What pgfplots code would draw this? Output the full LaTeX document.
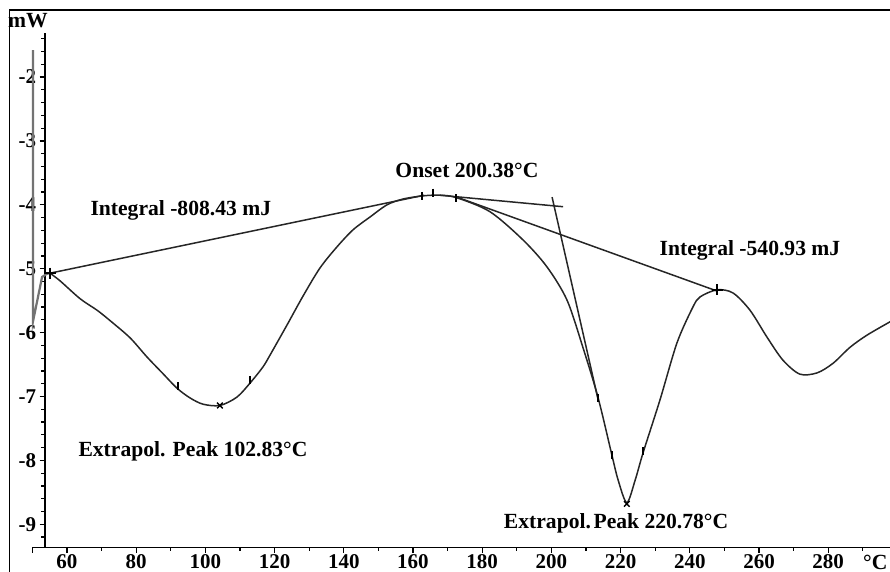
\documentclass[border=0pt]{standalone}
\usepackage{fontspec}
\setmainfont{Liberation Serif}
\usepackage{pgfplots}
\pgfplotsset{compat=1.18}

\begin{document}
\begin{tikzpicture}
\begin{axis}[
    x=1.73pt, y=31.95pt,
    xmin=53.6, xmax=297.9,
    ymin=-9.36, ymax=-1.31,
    axis x line*=bottom,
    axis y line*=left,
    axis line style={line width=0.75pt, black},
    clip=false,
    tick align=outside,
    xtick={60,80,...,280},
    minor xtick={70,90,...,290},
    ytick={-9,-8,...,-2},
    minor ytick={-9.2,-8.8,-8.6,-8.4,-8.2,-7.8,-7.6,-7.4,-7.2,-6.8,-6.6,-6.4,-6.2,-5.8,-5.6,-5.4,-5.2,-4.8,-4.6,-4.4,-4.2,-3.8,-3.6,-3.4,-3.2,-2.8,-2.6,-2.4,-2.2,-1.8,-1.6,-1.4},
    major tick length=2.6pt,
    minor tick length=1.8pt,
    tick style={line width=0.6pt, black},
    /pgf/number format/assume math mode=true,
    ticklabel style={font=\fontsize{10.5}{11}\selectfont\bfseries},
    yticklabel style={fill=white, inner sep=1pt, xshift=-0.5pt},
    xticklabel style={yshift=2.5pt},
]

% start transient and main DSC curve
\addplot[black!55, line width=1.1pt] coordinates {
    (50.17,-1.58) (50.2,-5.82) (52.8,-5.13) (54.2,-5.08) (55.1,-5.07)
};
\addplot[black!85, line width=0.75pt, smooth] coordinates {
    (55.1,-5.07) (58.0,-5.19) (63.8,-5.47) (68.7,-5.65) (72.4,-5.81)
    (78.2,-6.08) (83.1,-6.38) (87.7,-6.64) (91.8,-6.87) (95.5,-7.02)
    (99.3,-7.12) (104.2,-7.14) (109.1,-7.01) (112.9,-6.79) (116.6,-6.54)
    (118.7,-6.35) (123.6,-5.88) (128.2,-5.43) (133.1,-4.99) (138.0,-4.66)
    (142.7,-4.39) (147.6,-4.19) (152.5,-4.00) (157.1,-3.91) (162.9,-3.86)
    (167.8,-3.85) (172.7,-3.89) (182.3,-4.11) (191.8,-4.55) (198.7,-4.97)
    (204.5,-5.49) (209.1,-6.23) (213.5,-7.02) (217.5,-7.92) (219.3,-8.31)
    (221.8,-8.66) (224.2,-8.31) (226.5,-7.88) (231.4,-7.05) (236.3,-6.16)
    (240.9,-5.60) (243.0,-5.44) (247.9,-5.33) (252.5,-5.38) (257.4,-5.65)
    (262.3,-6.07) (266.9,-6.43) (271.8,-6.65) (276.8,-6.63) (281.4,-6.48)
    (286.3,-6.23) (291.2,-6.04) (297.9,-5.83)
};

% integral baselines
\addplot[black!85, line width=0.75pt] coordinates {(55.1,-5.07) (163.2,-3.85)};
\addplot[black!85, line width=0.75pt] coordinates {(172.7,-3.88) (247.9,-5.35)};
% onset tangents
\addplot[black!85, line width=0.75pt] coordinates {(167.8,-3.85) (203.4,-4.03)};
\addplot[black!85, line width=0.75pt] coordinates {(200.2,-3.88) (213.5,-7.05)};

% evaluation markers
\addplot[only marks, mark=|, mark size=2pt, black, mark options={line width=0.9pt}] coordinates {
    (92.1,-6.84) (112.9,-6.74) (162.6,-3.86) (165.8,-3.81) (172.4,-3.90)
    (213.5,-7.02) (217.5,-7.92) (226.5,-7.86)
};
\addplot[only marks, mark=x, mark size=2pt, black, mark options={line width=0.7pt}] coordinates {
    (104.2,-7.14) (221.8,-8.68)
};
\addplot[only marks, mark=+, mark size=2.8pt, black, mark options={line width=0.8pt}] coordinates {
    (247.9,-5.33) (55.1,-5.07)
};

% axis extension to the left and outer frame
\draw[line width=0.75pt] (axis cs:50,-9.36) -- (axis cs:53.6,-9.36);
\draw[line width=0.6pt] (axis cs:50,-9.36) -- ([yshift=-2.6pt]axis cs:50,-9.36);
\draw[line width=0.6pt] (axis cs:43.5,-9.75) -- (axis cs:43.5,-0.95) -- (axis cs:297.9,-0.95);

% annotations
\begin{scope}[every node/.style={font=\fontsize{10.8}{12}\selectfont\bfseries, inner sep=0pt}]
\node at (axis cs:92.9,-4.08) {Integral -808.43 mJ};
\node at (axis cs:175.6,-3.46) {Onset 200.38°C};
\node at (axis cs:257.4,-4.71) {Integral -540.93 mJ};
\node at (axis cs:96.4,-7.85) {Extrapol. Peak 102.83°C};
\node at (axis cs:218.7,-8.98) {Extrapol.\hspace{0.12em}Peak 220.78°C};
\node at (axis cs:48.7,-1.11) {mW};
\node at (axis cs:293.6,-9.6) {°C};
\end{scope}

\coordinate (bbll) at (axis cs:40.64,-9.746);
\coordinate (bbur) at (axis cs:297.86,-0.795);
\end{axis}
\pgfresetboundingbox
\path[use as bounding box] (bbll) rectangle (bbur);
\end{tikzpicture}
\end{document}
